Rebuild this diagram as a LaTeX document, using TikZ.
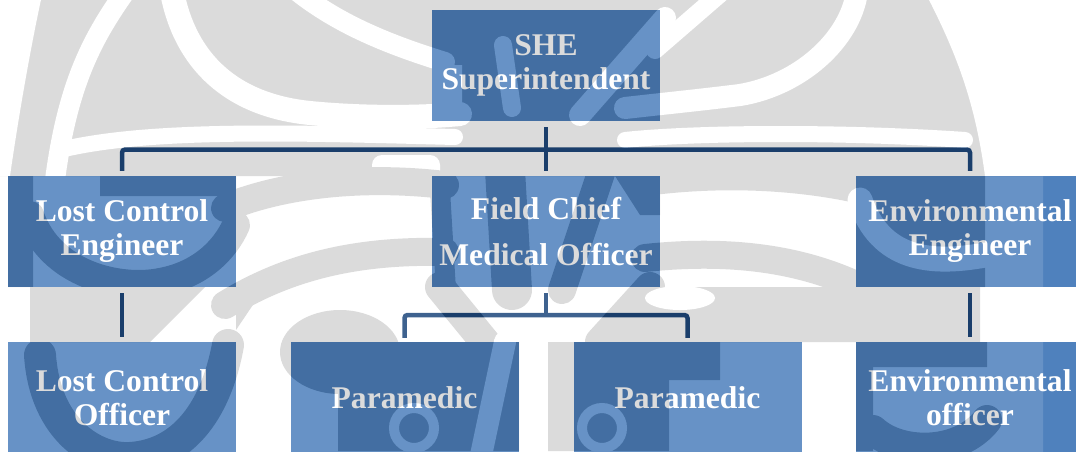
\documentclass[tikz,border=0pt]{standalone}
\usepackage{fontspec}
\setmainfont{Liberation Serif}
\usetikzlibrary{calc}

\definecolor{boxblue}{HTML}{4F81BD}
\definecolor{linkblue}{HTML}{1F497D}

\tikzset{
  orgbox/.style={fill=boxblue, draw=none, minimum width=228pt, minimum height=111pt,
    inner sep=0pt, text=white, align=center,
    font=\fontsize{31.6}{34}\selectfont\bfseries},
  link/.style={draw=linkblue, line width=4.5pt, rounded corners=3pt},
  shade/.style={fill=black},
  shadeband/.style={draw=black, line cap=round},
  gap/.style={draw=white, line cap=round},
}

\begin{document}
\begin{tikzpicture}[x=1pt, y=-1pt]
  \useasboundingbox (0,0) rectangle (1076,451);
  \clip (0,0) rectangle (1076,451);

  % top level
  \node[orgbox] (she) at (546,65.5) {SHE\\Superintendent};

  % second level
  \node[orgbox] (lce) at (122,231.5) {Lost Control\\Engineer};
  \node[orgbox] (fc)  at (546,231.5) {Field Chief\\[12pt]Medical Officer};
  \node[orgbox] (ee)  at (970,231.5) {Environmental\\Engineer};

  % third level
  \node[orgbox] (lco) at (122,397.5) {Lost Control\\Officer};
  \node[orgbox] (pm1) at (404.5,397.5) {Paramedic};
  \node[orgbox] (pm2) at (687.5,397.5) {Paramedic};
  \node[orgbox] (eo)  at (970,397.5) {Environmental\\officer};

  % branch points
  \coordinate (bar1) at ($(she.south)!0.52!(fc.north)$);
  \coordinate (bar2) at (fc.south|-0,315);

  % connectors
  \draw[link] ([yshift=-6pt]she.south) -- ([yshift=5pt]fc.north);
  \draw[link] ([yshift=5pt]lce.north) |- (bar1) -| ([yshift=5pt]ee.north);
  \draw[link] ([yshift=-6pt]lce.south) -- ([yshift=5pt]lco.north);
  \draw[link] ([yshift=-6pt]ee.south) -- ([yshift=5pt]eo.north);
  \draw[link] ([yshift=-6pt]fc.south) -- (bar2);
  \draw[link] ([yshift=4pt]pm1.north) |- (bar2) -| ([yshift=4pt]pm2.north);

  % faint emblem laid over the page
  \begin{scope}[transparency group, opacity=0.14]
    \fill[white] (-5,-5) rectangle (1043,460);

    % upper mass with its light swirls
    \fill[shade] (30,-5) -- (1043,-5) -- (1043,176) -- (0,176) -- (0,100) -- cycle;
    \fill[white] (-5,-5) -- (42,-5) .. controls (30,50) and (18,120) .. (10,176) -- (-5,176) -- cycle;
    \draw[gap, line width=20] (125,-8) .. controls (95,35) and (68,80) .. (55,180);
    \draw[gap, line width=24] (172,-8) .. controls (185,60) and (230,105) .. (310,113)
                               .. controls (360,118) and (420,118) .. (460,114);
    \draw[gap, line width=20] (298,-8) .. controls (340,25) and (390,45) .. (445,62);
    \draw[gap, line width=16] (60,150) .. controls (150,128) and (300,133) .. (455,137);
    \draw[gap, line width=22] (857,-8) .. controls (850,40) and (800,85) .. (740,95)
                               .. controls (700,100) and (660,104) .. (625,108);
    \draw[gap, line width=18] (655,50) -- (722,-8);
    \fill[white] (925,-8) .. controls (955,50) and (975,100) .. (985,176) -- (1050,176) -- (1050,-8) -- cycle;
    \draw[gap, line width=16] (625,140) .. controls (700,132) and (850,132) .. (965,140);
    \draw[gap, line width=22] (665,18) -- (580,115);
    \draw[gap, line width=18] (503,45) -- (512,108);
    \fill[white] (432,65) rectangle (462,121);
    \fill[white, rounded corners=10pt] (372,155) rectangle (440,190);

    % middle wings
    \draw[shadeband, line width=28] (225,208) .. controls (280,185) and (360,175) .. (445,185);
    \draw[shadeband, line width=28] (225,305) .. controls (290,265) and (360,250) .. (445,252);
    \draw[shadeband, line width=28] (645,182) .. controls (720,172) and (800,175) .. (870,192);
    \draw[shadeband, line width=28] (645,258) .. controls (720,250) and (800,255) .. (870,292);

    % rays through the central box
    \draw[shadeband, line width=20] (440,190) -- (446,290);
    \draw[shadeband, line width=40] (505,170) -- (512,290);
    \draw[shadeband, line width=28] (602,170) -- (562,290);
    \fill[shade] (615,176) -- (660,176) -- (660,215) -- (640,215) -- cycle;

    % left column, second row
    \fill[shade] (8,176) rectangle (33,287);
    \fill[shade] (100,176) rectangle (236,196);
    \draw[shadeband, line width=28] (30,215) .. controls (50,275) and (120,290) .. (160,282)
                                    .. controls (200,275) and (225,250) .. (236,225);

    % right column, second row
    \fill[shade] (856,176) rectangle (985,287);
    \draw[gap, line width=25] (860,200) .. controls (880,260) and (930,265) .. (985,255);

    % between second and third rows
    \fill[shade] (30,287) -- (205,287) -- (150,342) -- (30,342) -- cycle;
    \fill[shade] (236,287) -- (265,287) -- (236,330) -- cycle;
    \fill[shade] (340,352) ellipse [x radius=60, y radius=42];
    \draw[shadeband, line width=30] (440,287) -- (485,342);
    \draw[shadeband, line width=30] (650,287) -- (600,342);
    \fill[shade] (660,287) -- (856,287) -- (856,342) -- (620,342) -- cycle;
    \fill[white] (680,298) ellipse [x radius=35, y radius=12];
    \fill[shade] (856,287) rectangle (980,342);

    % third row
    \draw[shadeband, line width=32] (40,355) .. controls (45,430) and (95,460) .. (130,458)
                                    .. controls (180,455) and (215,415) .. (228,345);
    \fill[shade] (338,342) rectangle (519,451);
    \draw[gap, line width=10] (414,428) circle [radius=20];
    \draw[gap, line width=22] (505,342) -- (480,460);
    \fill[shade] (548,342) rectangle (573,451);
    \fill[shade] (573,342) rectangle (669,451);
    \draw[gap, line width=10] (602,428) circle [radius=20];
    \fill[shade] (669,342) rectangle (720,380);
    \fill[shade] (856,342) rectangle (987,367);
    \fill[shade] (856,342) rectangle (873,451);
    \draw[shadeband, line width=30] (873,430) .. controls (900,455) and (960,455) .. (987,420);
  \end{scope}
\end{tikzpicture}
\end{document}
